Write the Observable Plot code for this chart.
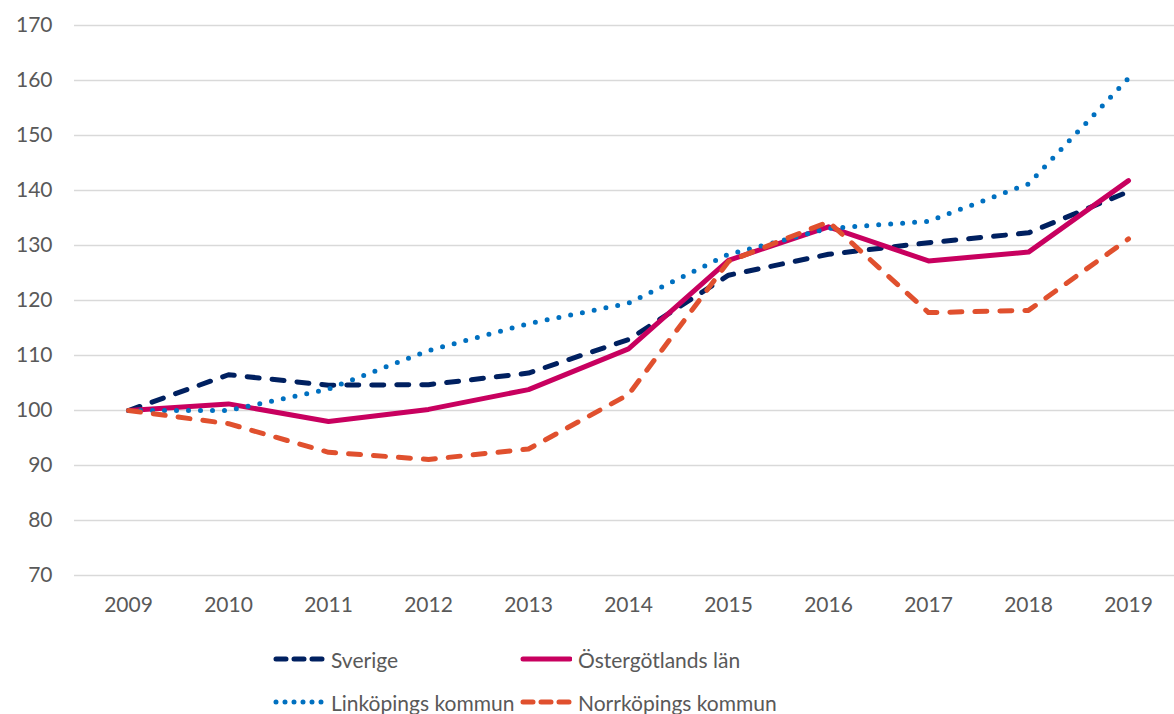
<!DOCTYPE html>
<html>
<head>
<meta charset="utf-8">
<script src="https://cdn.jsdelivr.net/npm/d3@7"></script>
<script src="https://cdn.jsdelivr.net/npm/@observablehq/plot@0.6"></script>
<style>
  body { margin: 0; background: #fff; font-family: Lato, sans-serif; }
  #wrap { position: relative; width: 1174px; }
  #legend { position: relative; width: 1174px; height: 84px; color: #595959; font-size: 21px; }
  .item { position: absolute; display: flex; align-items: center; white-space: nowrap; }
  .item svg { margin-right: 6px; }
</style>
</head>
<body>
<div id="wrap"><div id="chart"></div><div id="legend"></div></div>
<script>
const years = ["2009","2010","2011","2012","2013","2014","2015","2016","2017","2018","2019"];
const yTicks = [70, 80, 90, 100, 110, 120, 130, 140, 150, 160, 170];
const sverige      = [100, 106.5, 104.6, 104.7, 106.8, 112.9, 124.6, 128.4, 130.5, 132.3, 139.8];
const ostergotland = [100, 101.2, 98.0, 100.2, 103.8, 111.2, 127.3, 133.4, 127.2, 128.8, 141.8];
const linkoping    = [100, 100.0, 103.9, 110.9, 115.8, 119.5, 128.4, 133.1, 134.4, 141.2, 160.4];
const norrkoping   = [100, 97.6, 92.4, 91.1, 93.0, 102.9, 127.1, 134.3, 117.8, 118.2, 131.2];
const seriesNames = ["Sverige", "Östergötlands län", "Linköpings kommun", "Norrköpings kommun"];
const seriesValues = [sverige, ostergotland, linkoping, norrkoping];
const styles = [
  {stroke: "#002060", strokeWidth: 5, strokeDasharray: "12 13", strokeLinecap: "round"},
  {stroke: "#C8005F", strokeWidth: 5, strokeLinecap: "round", strokeLinejoin: "round"},
  {stroke: "#0070C0", strokeWidth: 5, strokeDasharray: "0 12", strokeLinecap: "round"},
  {stroke: "#E0502E", strokeWidth: 5, strokeDasharray: "12 13", strokeLinecap: "round"}
];

const lineMarks = seriesValues.map((vals, i) =>
  Plot.line(years.map((y, j) => ({year: y, value: vals[j]})), {
    x: "year", y: "value", ...styles[i]
  })
);

const chart = Plot.plot({
  width: 1174,
  height: 630,
  marginLeft: 74,
  marginRight: 0,
  marginTop: 25,
  marginBottom: 55,
  style: {fontFamily: "Lato, sans-serif", fontSize: "21px", color: "#595959", background: "#fff"},
  x: {type: "point", domain: years, range: [124, 1131], padding: 0},
  y: {domain: [70, 170]},
  marks: [
    Plot.ruleY(yTicks, {stroke: "#d9d9d9", strokeWidth: 1.5}),
    Plot.axisY({ticks: yTicks, tickSize: 0, tickPadding: 22, label: null, fill: "#595959"}),
    Plot.axisX({tickSize: 0, tickPadding: 22, label: null, fill: "#595959"}),
    ...lineMarks
  ]
});
document.getElementById("chart").appendChild(chart);

// legend
const legendPos = [
  {left: 273, top: 29}, {left: 520, top: 29},
  {left: 273, top: 72}, {left: 520, top: 72}
];
const legend = document.getElementById("legend");
seriesNames.forEach((name, i) => {
  const s = styles[i];
  const div = document.createElement("div");
  div.className = "item";
  div.style.left = legendPos[i].left + "px";
  div.style.top = (legendPos[i].top - 13) + "px";
  div.style.height = "26px";
  const ns = "http://www.w3.org/2000/svg";
  const svg = document.createElementNS(ns, "svg");
  svg.setAttribute("width", 52); svg.setAttribute("height", 12);
  const ln = document.createElementNS(ns, "line");
  ln.setAttribute("x1", 3); ln.setAttribute("x2", 50);
  ln.setAttribute("y1", 6); ln.setAttribute("y2", 6);
  ln.setAttribute("stroke", s.stroke);
  ln.setAttribute("stroke-width", s.strokeWidth);
  ln.setAttribute("stroke-linecap", "round");
  if (s.strokeDasharray) ln.setAttribute("stroke-dasharray", i === 2 ? "0 9" : "10 8");
  svg.appendChild(ln);
  div.appendChild(svg);
  const t = document.createElement("span");
  t.textContent = name;
  div.appendChild(t);
  legend.appendChild(div);
});
</script>
</body>
</html>
